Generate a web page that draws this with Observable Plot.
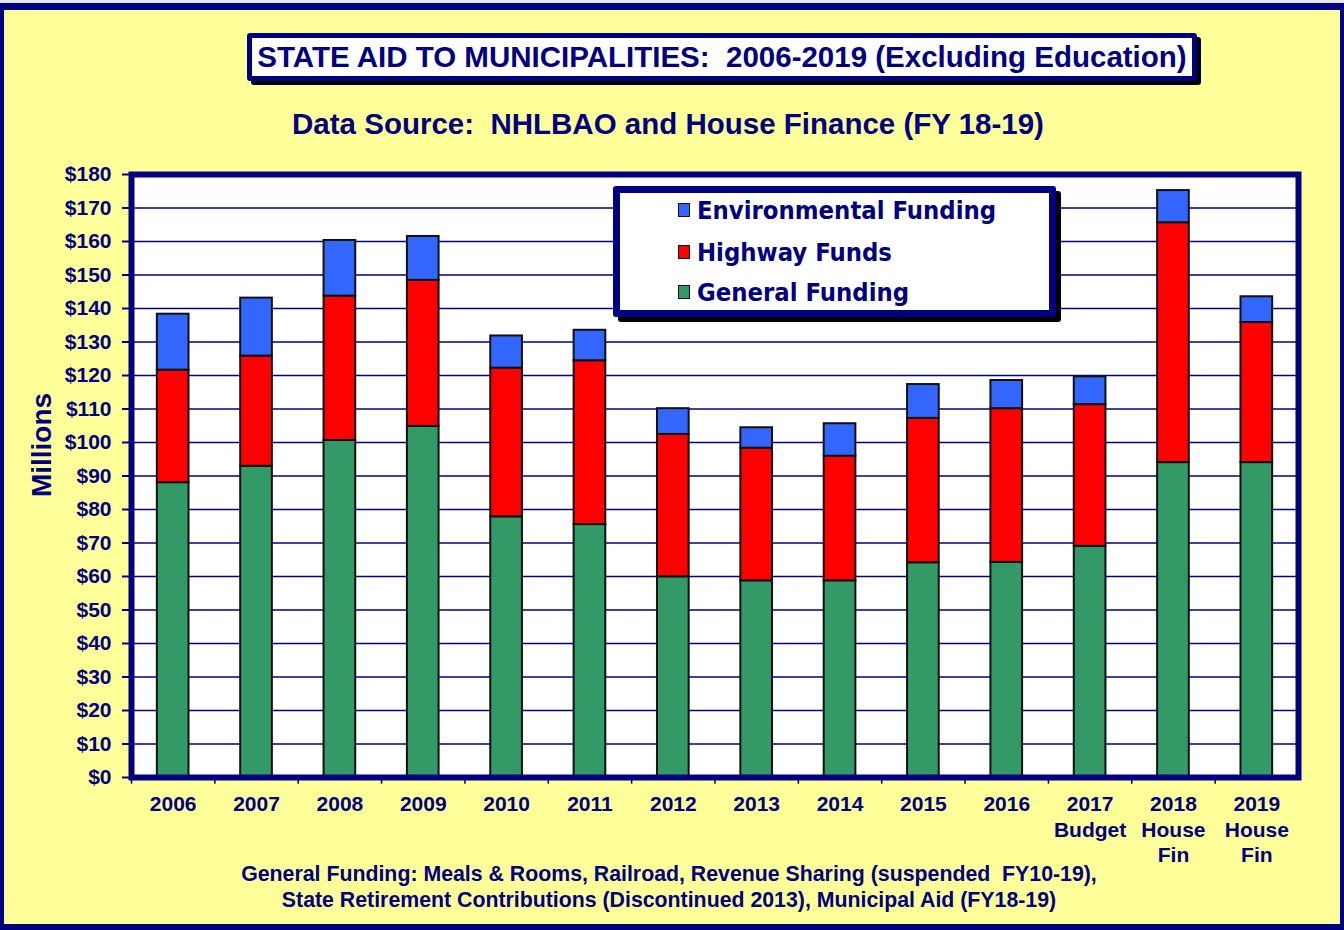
<!DOCTYPE html>
<html>
<head>
<meta charset="utf-8">
<script src="https://cdn.jsdelivr.net/npm/d3@7"></script>
<script src="https://cdn.jsdelivr.net/npm/@observablehq/plot@0.6"></script>
<style>
html, body { margin: 0; padding: 0; background: #ffffff; }
#page { position: relative; width: 1344px; height: 930px; background: #FFFF99; overflow: hidden;
  font-family: "Liberation Sans", Arial, sans-serif; color: #000080; }
#topstrip { position: absolute; left: 0; top: 0; width: 100%; height: 3px; background: #e6e6ef; z-index: 6; }
#border { position: absolute; left: 0; top: 3px; right: 0; bottom: 0; border-style: solid; border-color: #000080;
  border-width: 7px 4px 6px 4px; pointer-events: none; z-index: 5; }
#chart { position: absolute; left: 0; top: 0; }
#title { position: absolute; left: 247px; top: 33px; width: 950px; height: 48px; box-sizing: border-box;
  background: #fff; border: 5px solid #000080; border-radius: 3px; box-shadow: 4px 4px 0 #000;
  font-weight: bold; font-size: 29.5px; display: flex; align-items: center; justify-content: center; white-space: pre; }
#subtitle { position: absolute; left: 0; width: 1336px; top: 107px; text-align: center; font-weight: bold; font-size: 29.5px; white-space: pre; }
#caption { position: absolute; left: 0; width: 1338px; top: 861px; text-align: center; font-weight: bold; font-size: 21.3px; line-height: 26px; white-space: pre; }
#legend { position: absolute; left: 613px; top: 186px; width: 443px; height: 131px; box-sizing: border-box;
  background: #fff; border: 7px solid #000080; border-radius: 3px; box-shadow: 5px 5px 0 #000; z-index: 3; }
.item { position: absolute; left: 58px; height: 30px; display: flex; align-items: center;
  font-family: "DejaVu Sans Condensed", "DejaVu Sans", sans-serif; font-stretch: condensed; font-weight: bold; font-size: 25.4px; color: #000080; white-space: pre; }
.sw { display: inline-block; width: 10px; height: 12px; border: 1.5px solid #111; margin-right: 7px; }
</style>
</head>
<body>
<div id="page">
  <div id="chart"></div>
  <div id="title"></div>
  <div id="subtitle"></div>
  <div id="legend"></div>
  <div id="caption"></div>
  <div id="topstrip"></div>
  <div id="border"></div>
</div>
<script>
// ---- Data (millions of dollars) ----
const years = ["2006","2007","2008","2009","2010","2011","2012","2013","2014","2015","2016","2017","2018","2019"];
const xLabels = ["2006","2007","2008","2009","2010","2011","2012","2013","2014","2015","2016","2017\nBudget","2018\nHouse\nFin","2019\nHouse\nFin"];
const generalFunding = [88.0, 92.9, 100.6, 104.8, 77.8, 75.5, 59.9, 58.7, 58.7, 64.1, 64.2, 69.0, 94.0, 94.0];
const highwayFunds   = [33.6, 32.9, 43.1, 43.6, 44.4, 48.9, 42.5, 39.6, 37.2, 43.1, 45.9, 42.3, 71.6, 41.8];
const environmentalFunding = [16.7, 17.3, 16.6, 13.1, 9.6, 9.1, 7.7, 6.1, 9.7, 10.1, 8.4, 8.3, 9.6, 7.7];
const seriesNames = ["General Funding", "Highway Funds", "Environmental Funding"];
const seriesColors = ["#339966", "#FF0000", "#3366FF"];
const yTicks = [0,10,20,30,40,50,60,70,80,90,100,110,120,130,140,150,160,170,180];
const titleText = "STATE AID TO MUNICIPALITIES:  2006-2019 (Excluding Education)";
const subtitleText = "Data Source:  NHLBAO and House Finance (FY 18-19)";
const captionLines = ["General Funding: Meals & Rooms, Railroad, Revenue Sharing (suspended  FY10-19),",
                      "State Retirement Contributions (Discontinued 2013), Municipal Aid (FY18-19)"];
const yLabel = "Millions";

// ---- Build table ----
const seriesValues = [generalFunding, highwayFunds, environmentalFunding];
const data = [];
years.forEach((yr, i) => {
  seriesNames.forEach((s, k) => data.push({year: yr, series: s, value: seriesValues[k][i]}));
});

const navy = "#000080";
const W = 1344, H = 930, mL = 131, mR = 46, mT = 174, mB = 153;
const step = (W - mL - mR) / years.length;

const chart = Plot.plot({
  width: W, height: H,
  marginLeft: mL, marginRight: mR, marginTop: mT, marginBottom: mB,
  style: {background: "transparent", overflow: "visible"},
  x: {domain: years, paddingInner: 0.62, paddingOuter: 0.31, round: false, label: null},
  y: {domain: [0, 180], label: null},
  color: {domain: seriesNames, range: seriesColors},
  marks: [
    Plot.frame({fill: "white", stroke: "none"}),
    Plot.ruleY(yTicks.slice(1), {stroke: navy, strokeWidth: 1.7}),
    Plot.barY(data, {x: "year", y: "value", fill: "series", stroke: "#111", strokeWidth: 2}),
    Plot.ruleX(years, {x: d => d, y1: 0, y2: -2, dx: -step / 2, stroke: navy, strokeWidth: 1.5}),
    Plot.axisY({ticks: yTicks, tickFormat: d => "$" + d, tickSize: 9, tickPadding: 11,
      fontSize: 21, fontWeight: "bold", color: navy, strokeWidth: 2, label: null}),
    Plot.axisX({tickSize: 0, tickPadding: 16, tickFormat: (d, i) => xLabels[years.indexOf(d)],
      fontSize: 21, fontWeight: "bold", color: navy, lineHeight: 1.2, label: null}),
    Plot.frame({stroke: navy, strokeWidth: 6}),
    Plot.text([yLabel], {frameAnchor: "left", text: d => d, rotate: -90, textAnchor: "middle",
      dx: -89, dy: -31, fontSize: 28, fontWeight: "bold", fill: navy})
  ]
});
chart.style.fontFamily = '"Liberation Sans", Arial, sans-serif';
document.getElementById("chart").appendChild(chart);

document.getElementById("title").textContent = titleText;
document.getElementById("subtitle").textContent = subtitleText;
document.getElementById("caption").textContent = captionLines.join("\n");

// Legend (reverse order: top series first)
const legend = document.getElementById("legend");
const tops = [1.5, 44, 84];
[2, 1, 0].forEach((k, j) => {
  const it = document.createElement("div");
  it.className = "item";
  it.style.top = tops[j] + "px";
  const sw = document.createElement("span");
  sw.className = "sw";
  sw.style.background = seriesColors[k];
  it.appendChild(sw);
  it.appendChild(document.createTextNode(seriesNames[k]));
  legend.appendChild(it);
});
</script>
</body>
</html>
